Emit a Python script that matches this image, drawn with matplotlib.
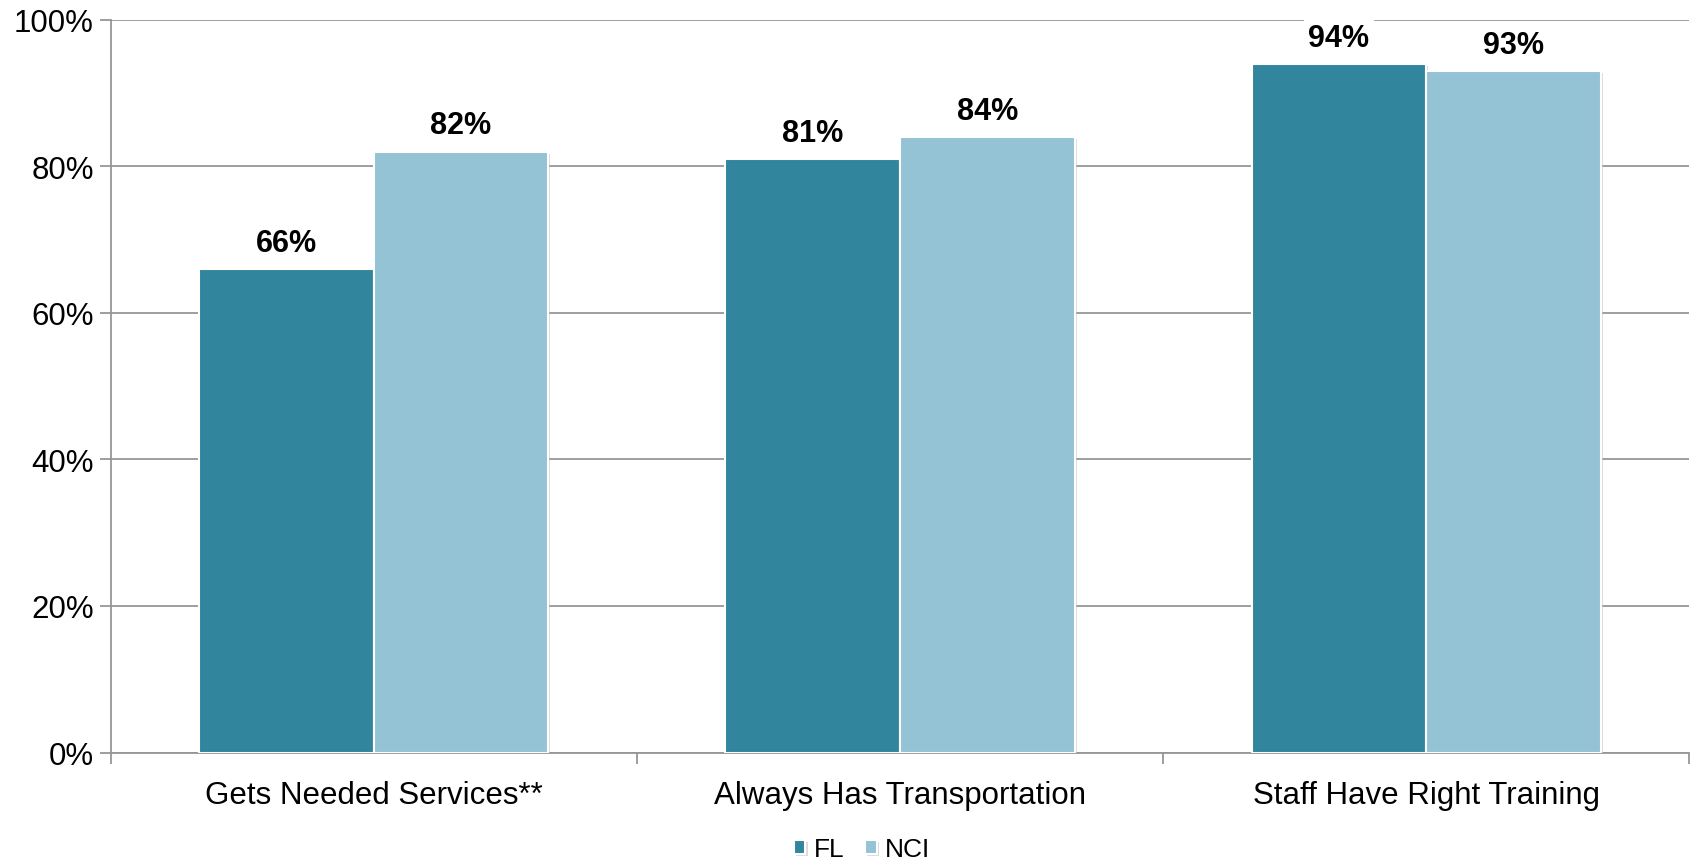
import numpy as np
import matplotlib.pyplot as plt
import matplotlib.patheffects as pe

plt.rcParams['font.family'] = ['Liberation Sans', 'DejaVu Sans']

categories = ['Gets Needed Services**', 'Always Has Transportation', 'Staff Have Right Training']
fl = [66, 81, 94]
nci = [82, 84, 93]
series_names = ['FL', 'NCI']
colors = ['#31859C', '#93C3D5']

fig = plt.figure(figsize=(17, 8.62), dpi=100)
ax = fig.add_axes([0.065, 0.1258, 0.9288, 0.8502])

x = np.arange(len(categories))
w = 0.332
shadow = [pe.SimplePatchShadow(offset=(1.5, -1.5), shadow_rgbFace='#bbbbbb', alpha=0.5), pe.Normal()]

for i, (vals, name) in enumerate(zip([fl, nci], series_names)):
    pos = x + (i - 0.5) * w
    bars = ax.bar(pos, vals, w, color=colors[i], edgecolor='white', linewidth=1.5,
                  label=name, zorder=3)
    for b in bars:
        b.set_path_effects(shadow)
    for p, v in zip(pos, vals):
        ax.annotate('{}%'.format(v), (p, v), xytext=(0, 8), textcoords='offset points',
                    ha='center', va='bottom', fontsize=22, fontweight='bold', zorder=5,
                    bbox=dict(boxstyle='square,pad=0.15', fc='white', ec='none'))

ax.set_xlim(-0.5, len(categories) - 0.5)
ax.set_ylim(0, 100)
ax.set_yticks(np.arange(0, 101, 20))
ax.set_yticklabels(['{}%'.format(t) for t in range(0, 101, 20)], fontsize=22.5)
ax.yaxis.grid(True, color='#969696', linewidth=1.3, zorder=0)
ax.set_axisbelow(True)

ax.set_xticks(np.arange(-0.5, len(categories), 1.0))
ax.set_xticklabels([])
ax.set_xticks(x, minor=True)
ax.set_xticklabels(categories, minor=True, fontsize=22.5)
ax.tick_params(axis='x', which='minor', length=0, pad=20)
ax.tick_params(axis='x', which='major', length=8, color='#969696', width=1.3)
ax.tick_params(axis='y', length=8, color='#969696', width=1.3, pad=4)

for s in ['top', 'right']:
    ax.spines[s].set_visible(False)
for s in ['left', 'bottom']:
    ax.spines[s].set_color('#969696')
    ax.spines[s].set_linewidth(1.3)

fig.legend(loc='lower center', bbox_to_anchor=(0.507, -0.028), ncol=2, frameon=False,
           fontsize=19, handlelength=0.45, handleheight=0.45, handletextpad=0.3,
           columnspacing=0.8)

fig.savefig('out.png', dpi=100)
